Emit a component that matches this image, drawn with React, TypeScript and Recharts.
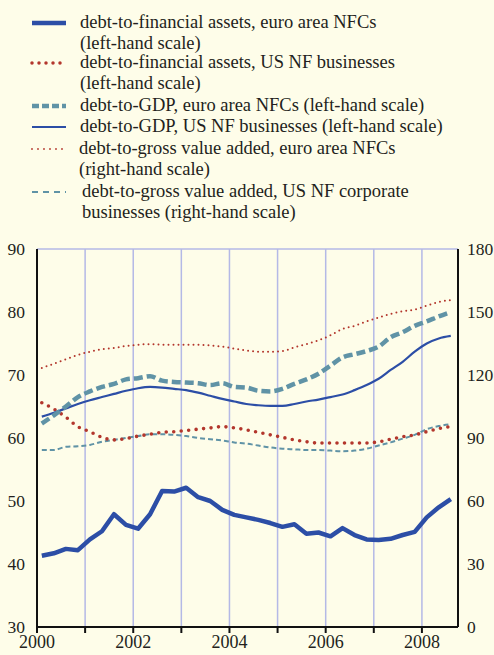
import React from "react";
import { CartesianGrid, Line, LineChart, XAxis, YAxis } from "recharts";

const quarters = [
  "2000Q1", "2000Q2", "2000Q3", "2000Q4",
  "2001Q1", "2001Q2", "2001Q3", "2001Q4",
  "2002Q1", "2002Q2", "2002Q3", "2002Q4",
  "2003Q1", "2003Q2", "2003Q3", "2003Q4",
  "2004Q1", "2004Q2", "2004Q3", "2004Q4",
  "2005Q1", "2005Q2", "2005Q3", "2005Q4",
  "2006Q1", "2006Q2", "2006Q3", "2006Q4",
  "2007Q1", "2007Q2", "2007Q3", "2007Q4",
  "2008Q1", "2008Q2", "2008Q3",
];

// left-hand scale
const debtFinAssetsEA = [
  41.3, 41.7, 42.4, 42.2, 43.9, 45.2, 47.9, 46.2, 45.6, 47.9, 51.6, 51.5,
  52.1, 50.6, 50.0, 48.6, 47.8, 47.4, 47.0, 46.5, 45.9, 46.3, 44.8, 45.0,
  44.4, 45.7, 44.6, 43.9, 43.8, 44.0, 44.6, 45.1, 47.4, 49.0, 50.3,
];
const debtFinAssetsUS = [
  65.6, 64.6, 63.3, 61.8, 61.0, 60.1, 59.7, 59.9, 60.3, 60.6, 60.9, 61.0,
  61.2, 61.4, 61.6, 61.8, 61.6, 61.3, 60.9, 60.5, 60.1, 59.7, 59.4, 59.2,
  59.2, 59.2, 59.2, 59.2, 59.4, 59.8, 60.2, 60.5, 61.0, 61.5, 61.8,
];
const debtGdpEA = [
  62.3, 63.6, 65.0, 66.5, 67.4, 68.1, 68.6, 69.3, 69.5, 69.8, 69.1, 68.9,
  68.8, 68.7, 68.4, 68.7, 68.1, 68.0, 67.5, 67.4, 67.8, 68.6, 69.3, 70.2,
  71.5, 72.8, 73.3, 73.8, 74.5, 76.0, 76.8, 77.8, 78.5, 79.3, 80.0,
];
const debtGdpUS = [
  63.4, 64.0, 64.7, 65.4, 66.0, 66.5, 67.0, 67.5, 67.9, 68.1, 68.0, 67.8,
  67.6, 67.2, 66.7, 66.2, 65.8, 65.4, 65.2, 65.1, 65.1, 65.4, 65.8, 66.1,
  66.5, 66.9, 67.6, 68.4, 69.4, 70.8, 72.1, 73.7, 75.0, 75.8, 76.2,
];
// right-hand scale
const debtGvaEA = [
  123.3, 125.4, 127.5, 129.6, 131.1, 132.3, 132.9, 133.8, 134.4, 134.7, 134.4, 134.4,
  134.4, 134.4, 134.1, 133.5, 132.6, 131.7, 131.1, 131.1, 131.4, 133.2, 134.7, 136.5,
  138.9, 141.9, 143.4, 145.5, 147.3, 149.1, 150.3, 151.2, 153.0, 154.8, 155.7,
];
const debtGvaUS = [
  84.3, 84.3, 85.8, 86.1, 86.7, 88.2, 89.1, 90.0, 90.9, 91.8, 91.8, 91.5,
  90.9, 90.0, 89.4, 88.8, 87.9, 87.3, 86.4, 85.5, 84.9, 84.6, 84.3, 84.3,
  84.0, 83.7, 84.0, 84.9, 86.4, 87.9, 89.7, 91.5, 94.2, 95.7, 96.6,
];

const yearTicks = [2000, 2001, 2002, 2003, 2004, 2005, 2006, 2007, 2008];
const leftTicks = [30, 40, 50, 60, 70, 80, 90];
const rightTicks = [0, 30, 60, 90, 120, 150, 180];

const data = quarters.map((q, i) => ({
  t: Number(q.slice(0, 4)) + (Number(q.slice(5)) - 0.6) / 4,
  faEA: debtFinAssetsEA[i],
  faUS: debtFinAssetsUS[i],
  gdpEA: debtGdpEA[i],
  gdpUS: debtGdpUS[i],
  gvaEA: debtGvaEA[i],
  gvaUS: debtGvaUS[i],
}));

const BG = "#fefde9";
const BLUE = "#2c4ea6";
const RED = "#b3362c";
const TEAL = "#6093a6";
const GRID = "#b4b9e6";
const FONT = "Liberation Serif, Tinos, Times New Roman, DejaVu Serif, serif";

const legend = [
  { lines: ["debt-to-financial assets, euro area NFCs", "(left-hand scale)"], stroke: BLUE, w: 4.5, dash: undefined, cap: "butt", y: 23, x: 80 },
  { lines: ["debt-to-financial assets, US NF businesses", "(left-hand scale)"], stroke: RED, w: 3.5, dash: "0 7", cap: "round", y: 63, x: 80 },
  { lines: ["debt-to-GDP, euro area NFCs (left-hand scale)"], stroke: TEAL, w: 4.5, dash: "7 3", cap: "butt", y: 106, x: 80 },
  { lines: ["debt-to-GDP, US NF businesses (left-hand scale)"], stroke: BLUE, w: 2, dash: undefined, cap: "butt", y: 127, x: 80 },
  { lines: ["debt-to-gross value added, euro area NFCs", "(right-hand scale)"], stroke: RED, w: 1.8, dash: "0 6", cap: "round", y: 149, x: 79 },
  { lines: ["debt-to-gross value added, US NF corporate", "businesses (right-hand scale)"], stroke: TEAL, w: 2, dash: "6 5", cap: "butt", y: 192, x: 82 },
];

function Legend() {
  return (
    <>
      {legend.map((item, i) => (
        <div key={i}>
          <svg style={{ position: "absolute", left: 30, top: item.y - 5 }} width={38} height={10}>
            <line x1={2} x2={36} y1={5} y2={5} stroke={item.stroke} strokeWidth={item.w}
              strokeDasharray={item.dash} strokeLinecap={item.cap as any} />
          </svg>
          {item.lines.map((l, j) => (
            <div key={j} style={{
              position: "absolute", left: item.x, top: item.y - 12 + j * 21,
              fontFamily: FONT, fontSize: 18.5, lineHeight: "22px", color: "#231f20", whiteSpace: "nowrap",
            }}>{l}</div>
          ))}
        </div>
      ))}
    </>
  );
}

export default function App() {
  return (
    <div style={{ position: "fixed", left: 0, top: 0, width: 494, height: 655, background: BG, overflow: "hidden" }}>
      <Legend />
      <div style={{ position: "absolute", left: 0, top: 230 }}>
        <LineChart width={494} height={425} data={data} margin={{ top: 19, right: 0, bottom: 0, left: 0 }}>
          <CartesianGrid stroke={GRID} strokeWidth={1.5} />
          <XAxis dataKey="t" type="number" domain={[2000, 2008.75]} ticks={yearTicks}
            tickFormatter={(v: number) => (v % 2 === 0 ? String(v) : "")}
            height={28} stroke="#111" strokeWidth={2} tickSize={6} tickMargin={2}
            tick={{ fill: "#231f20", fontFamily: FONT, fontSize: 18 }} interval={0} />
          <YAxis yAxisId="left" domain={[30, 90]} ticks={leftTicks} width={37}
            stroke="#111" strokeWidth={2} tickLine={false} tickMargin={6}
            tick={{ fill: "#231f20", fontFamily: FONT, fontSize: 17.5 }} />
          <YAxis yAxisId="right" orientation="right" domain={[0, 180]} ticks={rightTicks} width={36}
            stroke="#111" strokeWidth={2} tickLine={false} tickMargin={3}
            tick={{ fill: "#231f20", fontFamily: FONT, fontSize: 17.5 }} />
          <Line yAxisId="right" dataKey="gvaUS" type="monotone" stroke={TEAL} strokeWidth={2}
            strokeDasharray="5 3" dot={false} isAnimationActive={false} />
          <Line yAxisId="right" dataKey="gvaEA" type="monotone" stroke={RED} strokeWidth={2}
            strokeDasharray="0 5" strokeLinecap="round" dot={false} isAnimationActive={false} />
          <Line yAxisId="left" dataKey="faUS" type="monotone" stroke={RED} strokeWidth={3.6}
            strokeDasharray="0 7.5" strokeLinecap="round" dot={false} isAnimationActive={false} />
          <Line yAxisId="left" dataKey="gdpUS" type="monotone" stroke={BLUE} strokeWidth={2.2}
            dot={false} isAnimationActive={false} />
          <Line yAxisId="left" dataKey="gdpEA" type="monotone" stroke={TEAL} strokeWidth={4.5}
            strokeDasharray="9 4" dot={false} isAnimationActive={false} />
          <Line yAxisId="left" dataKey="faEA" type="linear" stroke={BLUE} strokeWidth={4.5}
            strokeLinejoin="round" dot={false} isAnimationActive={false} />
        </LineChart>
      </div>
    </div>
  );
}
